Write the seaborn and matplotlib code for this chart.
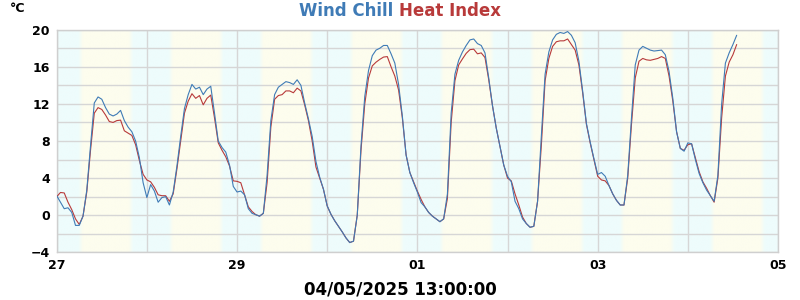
import numpy as np
import pandas as pd
import matplotlib
matplotlib.use("Agg")
import matplotlib.pyplot as plt
import seaborn as sns

# ---- data (hourly, from 27 Apr 2025 00:00 to 04 May 2025 13:00) ----
wind_chill = [
    2.1, 1.4, 0.7, 0.8, 0.3, -1.1, -1.1, -0.1, 2.7, 7.5, 12.1, 12.75, 12.5, 11.6, 10.9, 10.7, 10.9, 11.3, 10.2, 9.5, 9.0, 8.0, 6.2, 3.5,
    1.9, 3.3, 2.6, 1.4, 1.9, 2.0, 1.1, 2.5, 5.3, 8.5, 11.5, 13.0, 14.1, 13.6, 13.8, 13.0, 13.6, 13.9, 11.0, 8.0, 7.3, 6.8, 5.4, 3.1,
    2.5, 2.6, 2.2, 0.7, 0.2, 0.05, -0.1, 0.2, 4.3, 10.2, 13.0, 13.8, 14.1, 14.4, 14.3, 14.1, 14.6, 14.0, 12.1, 10.4, 8.5, 5.8, 4.1, 2.8,
    1.0, 0.1, -0.6, -1.2, -1.8, -2.45, -2.95, -2.8, 0.0, 7.5, 12.8, 15.6, 17.2, 17.8, 18.0, 18.3, 18.3, 17.4, 16.4, 14.1, 10.7, 6.5, 4.6, 3.5,
    2.5, 1.35, 0.9, 0.3, -0.1, -0.4, -0.7, -0.4, 2.3, 11.0, 15.2, 16.7, 17.6, 18.3, 18.9, 19.0, 18.5, 18.3, 17.5, 14.8, 11.8, 9.4, 7.4, 5.4,
    4.2, 3.6, 1.5, 0.7, -0.4, -0.9, -1.3, -1.2, 1.5, 8.5, 15.2, 17.6, 18.9, 19.5, 19.7, 19.6, 19.8, 19.4, 18.6, 16.6, 13.4, 9.9, 7.9, 6.1,
    4.4, 4.6, 4.2, 3.2, 2.3, 1.6, 1.1, 1.1, 4.3, 10.5, 16.2, 17.8, 18.2, 18.0, 17.8, 17.7, 17.75, 17.8, 17.3, 15.5, 12.6, 9.0, 7.2, 6.9,
    7.8, 7.7, 6.0, 4.5, 3.5, 2.7, 2.1, 1.5, 4.3, 12.0, 16.4, 17.5, 18.4, 19.4,
]
heat_index = [
    2.0, 2.45, 2.4, 1.4, 0.6, -0.4, -1.0, -0.1, 2.5, 7.0, 11.0, 11.6, 11.4, 10.8, 10.1, 10.0, 10.2, 10.25, 9.1, 8.85, 8.6, 7.6, 5.9, 4.4,
    3.8, 3.6, 3.0, 2.2, 2.1, 2.1, 1.5, 2.3, 5.0, 8.0, 11.0, 12.3, 13.1, 12.6, 12.9, 11.9, 12.6, 12.95, 10.5, 7.8, 7.0, 6.3, 5.3, 3.7,
    3.65, 3.5, 2.2, 0.9, 0.4, 0.05, -0.1, 0.2, 3.5, 9.5, 12.5, 12.9, 13.0, 13.4, 13.4, 13.2, 13.7, 13.4, 11.9, 10.2, 8.0, 5.2, 4.0, 2.8,
    1.0, 0.1, -0.6, -1.2, -1.8, -2.45, -2.95, -2.8, 0.0, 7.0, 12.0, 14.8, 16.1, 16.5, 16.8, 17.05, 17.1, 16.0, 15.0, 13.5, 10.5, 6.5, 4.6, 3.6,
    2.6, 1.7, 0.9, 0.3, -0.1, -0.4, -0.7, -0.4, 1.8, 10.0, 14.5, 16.2, 16.85, 17.45, 17.85, 17.9, 17.4, 17.5, 17.0, 14.6, 11.8, 9.4, 7.4, 5.4,
    4.0, 3.7, 2.3, 1.1, -0.2, -0.9, -1.3, -1.2, 1.5, 7.5, 14.5, 16.9, 18.2, 18.7, 18.8, 18.8, 19.0, 18.4, 17.8, 16.2, 13.2, 9.8, 7.8, 6.0,
    4.2, 3.8, 3.7, 3.2, 2.3, 1.6, 1.1, 1.1, 4.0, 9.8, 14.8, 16.6, 16.9, 16.75, 16.7, 16.8, 16.9, 17.1, 16.9, 15.0, 12.3, 9.0, 7.2, 7.0,
    7.6, 7.7, 6.2, 4.7, 3.6, 2.9, 2.1, 1.4, 4.0, 10.5, 15.0, 16.5, 17.3, 18.4,
]
hours = list(range(len(wind_chill)))
x_tick_hours = [0, 48, 96, 144, 192]
x_tick_labels = ["27", "29", "01", "03", "05"]
y_ticks = [-4, 0, 4, 8, 12, 16, 20]
sunrise_hour = 6.3
sunset_hour = 19.7
x_label = "04/05/2025 13:00:00"

BLUE = "#3f7bb6"
RED = "#b83a3a"
NIGHT = np.array([238, 252, 252]) / 255.0
DAY = np.array([253, 253, 238]) / 255.0

sns.set_theme(style="white")
plt.rcParams["font.family"] = ["DejaVu Sans"]

fig = plt.figure(figsize=(8, 3), dpi=100)
ax = fig.add_axes([0.0709, 0.159, 0.9016, 0.742])

# day / night background
t = np.linspace(0, 192, 3841)
tod = t % 24
f = np.clip((tod - (sunrise_hour - 0.6)) / 1.2, 0, 1) * np.clip(((sunset_hour + 0.6) - tod) / 1.2, 0, 1)
bg = NIGHT[None, :] * (1 - f[:, None]) + DAY[None, :] * f[:, None]
ax.imshow(bg[None, :, :], extent=[0, 192, -4, 20], aspect="auto", zorder=-2, interpolation="bilinear")

df = pd.DataFrame({"hour": hours, "Wind Chill": wind_chill, "Heat Index": heat_index})
sns.lineplot(data=df, x="hour", y="Heat Index", color=RED, lw=0.8, ax=ax, zorder=3)
sns.lineplot(data=df, x="hour", y="Wind Chill", color=BLUE, lw=0.8, ax=ax, zorder=4)

ax.set_xlim(0, 192)
ax.set_ylim(-4, 20)
ax.set_xticks(x_tick_hours)
ax.set_xticklabels(x_tick_labels)
ax.set_xticks(list(range(0, 193, 24)), minor=True)
ax.set_yticks(y_ticks)
ax.set_yticks(list(range(-4, 21, 2)), minor=True)
ax.set_axisbelow(True)
ax.grid(which="both", color="#d6d6d6", lw=1.0)
ax.tick_params(which="both", length=0)
ax.tick_params(axis="x", pad=5, labelsize=9)
ax.tick_params(axis="y", pad=5, labelsize=9)
for lbl in ax.get_xticklabels() + ax.get_yticklabels():
    lbl.set_fontweight("bold")
    lbl.set_color("black")
for s in ax.spines.values():
    s.set_color("#cfcfcf")
    s.set_linewidth(1.0)
ax.set_xlabel("")
ax.set_ylabel("")

fig.text(393 / 800, 1 - 11 / 300, "Wind Chill", color=BLUE, fontsize=12, fontweight="bold", ha="right", va="center")
fig.text(399 / 800, 1 - 11 / 300, "Heat Index", color=RED, fontsize=12, fontweight="bold", ha="left", va="center")
fig.text(10 / 800, 1 - 9 / 300, "°C", color="black", fontsize=9, fontweight="bold", ha="left", va="center")
fig.text(0.5, 1 - 290 / 300, x_label, color="black", fontsize=12, fontweight="bold", ha="center", va="center")

fig.savefig("out.png", dpi=100)
